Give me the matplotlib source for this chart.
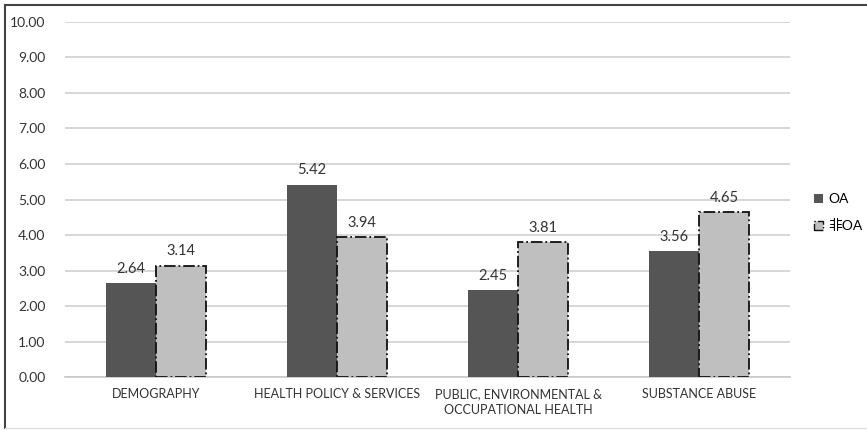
import matplotlib.pyplot as plt
import numpy as np
from matplotlib.lines import Line2D
from matplotlib.patches import Patch

plt.rcParams['font.family'] = ['Lato', 'Noto Sans CJK SC', 'DejaVu Sans']

categories = ["DEMOGRAPHY", "HEALTH POLICY & SERVICES",
              "PUBLIC, ENVIRONMENTAL &\nOCCUPATIONAL HEALTH", "SUBSTANCE ABUSE"]
oa = [2.64, 5.42, 2.45, 3.56]
non_oa = [3.14, 3.94, 3.81, 4.65]
yticks = np.arange(0, 10.01, 1.0)

fig = plt.figure(figsize=(8.67, 4.3), dpi=100)
ax = fig.add_axes([0.075, 0.123, 0.836, 0.826])

x = np.arange(len(categories))
w = 0.276
b1 = ax.bar(x - w / 2, oa, w, color='#555555', zorder=3)
b2 = ax.bar(x + w / 2, non_oa, w, color='#bfbfbf', edgecolor='#111111',
            linestyle='-.', linewidth=1.3, zorder=3)

for rect, v in zip(list(b1) + list(b2), oa + non_oa):
    ax.text(rect.get_x() + rect.get_width() / 2, v + 0.2, f"{v:.2f}",
            ha='center', va='bottom', fontsize=10.5, color='#333333')

ax.set_xlim(-0.5, 3.5)
ax.set_ylim(0, 10)
ax.set_yticks(yticks)
ax.set_yticklabels([f"{t:.2f}" for t in yticks], fontsize=10)
ax.set_xticks(x)
ax.set_xticklabels(categories, fontsize=9, linespacing=1.35)
ax.tick_params(length=0, colors='#333333')
ax.tick_params(axis='y', pad=14)
ax.tick_params(axis='x', pad=8)
ax.yaxis.grid(True, color='#d0d0d0', linewidth=1.2, zorder=0)
for s in ['top', 'right', 'left']:
    ax.spines[s].set_visible(False)
ax.spines['bottom'].set_color('#c8c8c8')
ax.spines['bottom'].set_linewidth(1.2)

handles = [Patch(facecolor='#555555', label='OA'),
           Patch(facecolor='#bfbfbf', edgecolor='#111111', linestyle='-.', label='非OA')]
fig.legend(handles=handles, loc='center left', bbox_to_anchor=(0.925, 0.505),
           frameon=False, fontsize=10, handlelength=0.6, handleheight=0.6,
           handletextpad=0.4, labelspacing=1.0)

# outer frame
fig.add_artist(Line2D([5 / 867, 5 / 867], [1 - 5 / 430, 1 - 428 / 430],
                      transform=fig.transFigure, color='#444444', linewidth=1.5))
fig.add_artist(Line2D([5 / 867, 1], [1 - 5 / 430, 1 - 5 / 430],
                      transform=fig.transFigure, color='#444444', linewidth=1.5))
fig.add_artist(Line2D([5 / 867, 1], [1 - 428 / 430, 1 - 428 / 430],
                      transform=fig.transFigure, color='#dddddd', linewidth=1))

fig.savefig('out.png', dpi=100)
